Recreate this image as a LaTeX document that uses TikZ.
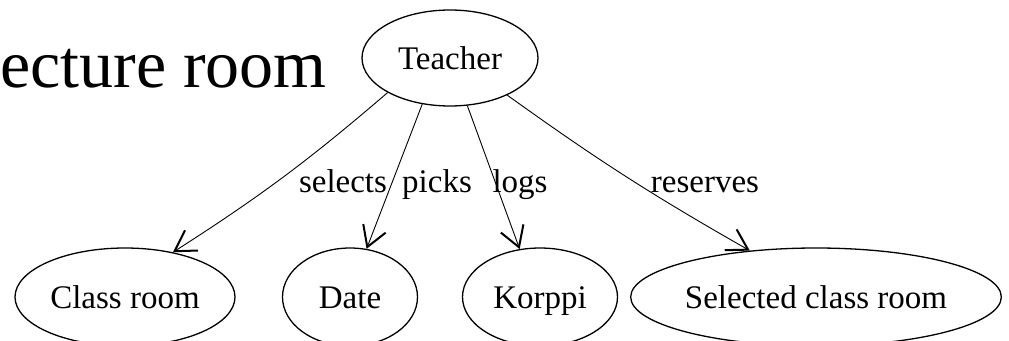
\documentclass[tikz,border=0pt]{standalone}
\usepackage{fontspec}
\setmainfont{Liberation Serif}
\usetikzlibrary{shapes.geometric,arrows.meta}
\begin{document}
\begin{tikzpicture}[x=1pt,y=-1pt,
  ent/.style={draw,ellipse,line width=1.3pt,inner sep=0pt,text height=23pt,text depth=0pt,font=\fontsize{33}{36}\selectfont},
  rel/.style={line width=0.9pt,-{Straight Barb[length=20pt,width=24pt,line width=2pt]}},
  lab/.style={font=\fontsize{33}{36}\selectfont,inner sep=0pt}]
\useasboundingbox (0,0) rectangle (1009,340);
\node[anchor=base west,inner sep=0pt,font=\fontsize{68}{70}\selectfont] (title) at (0,87) {ecture room};
\node[ent,minimum width=176pt,minimum height=96pt] (teacher) at (450,58) {Teacher};
\node[ent,minimum width=220pt,minimum height=98pt] (class) at (125,297) {Class room};
\node[ent,minimum width=135pt,minimum height=98pt] (date) at (350,297) {Date};
\node[ent,minimum width=155pt,minimum height=98pt] (korppi) at (540,297) {Korppi};
\node[ent,minimum width=314pt,minimum height=98pt] (sel) at (816,297) {Selected class room};
\draw[rel] (teacher.209.7) to[bend left=4] (class.43);
\draw[rel] (teacher.239.7) to (date.71);
\draw[rel] (teacher.290.6) to (korppi.113);
\draw[rel] (teacher.327.5) to[bend right=3] (sel.145);
\node[lab,anchor=base] (l1) at (343,192) {selects};
\node[lab,anchor=base] (l2) at (437,192) {picks};
\node[lab,anchor=base] (l3) at (520,192) {logs};
\node[lab,anchor=base] (l4) at (705,192) {reserves};
\end{tikzpicture}
\end{document}
